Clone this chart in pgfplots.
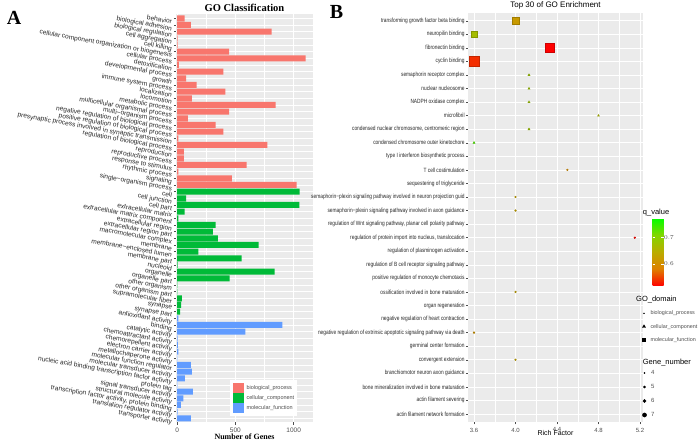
\documentclass[border=0pt]{standalone}
\usepackage{fontspec}
\setmainfont{Liberation Sans}
\newfontfamily\serifbf{Liberation Serif}
\newfontfamily\narrowfont{Liberation Sans}[FakeStretch=0.79]
\usepackage{pgfplots}
\usepackage{pgfplotstable}
\pgfplotsset{compat=1.18}

\definecolor{bpRed}{HTML}{F8766D}
\definecolor{ccGreen}{HTML}{00BA38}
\definecolor{mfBlue}{HTML}{619CFF}
\definecolor{ggBg}{HTML}{EBEBEB}
\definecolor{ggText}{HTML}{4D4D4D}

% invisible box that fixes the size of a legend key
\newcommand\keybox[4]{\pgfpathrectangle{\pgfpoint{#1}{#2}}{\pgfpoint{#3}{#4}}\pgfusepath{}}

\pgfplotsset{
  colormap={qv}{rgb255(0cm)=(255,0,0) rgb255(1cm)=(222,128,0) rgb255(2cm)=(186,172,0) rgb255(3cm)=(130,214,0) rgb255(4cm)=(0,255,0)},
  ggpanel/.style={
    scale only axis, enlargelimits=false,
    axis background/.style={fill=ggBg},
    axis line style={draw=none},
    grid=both, major grid style={white, line width=0.6pt}, minor grid style={white, line width=0.3pt},
    tick align=outside, tickpos=left, major tick length=2.2pt, minor tick length=0pt,
    tick style={ggText, line width=0.4pt},
    /pgf/number format/assume math mode=true,
    /pgf/number format/1000 sep={},
    ticklabel style={text=ggText},
  },
  hiddenleg/.style={
    hide axis, scale only axis, width=10pt, height=10pt,
    xmin=0, xmax=1, ymin=0, ymax=1, anchor=north west,
    legend cell align=left,
    legend style={at={(0,1)}, anchor=north west, draw=none, fill=none,
      inner sep=0pt, outer sep=0pt, text=ggText,
      nodes={inner sep=0pt, text height=4.5pt, text depth=1.5pt},
      /tikz/every odd column/.append style={column sep=4pt}},
    legend image code/.code={\keybox{0pt}{-3pt}{5pt}{6pt}\draw[##1] plot coordinates {(2.5pt,0pt)};},
  },
}

% panel B points: rich factor, row, q value, mark size
\pgfplotstableread{
x y q s
4.0 1 0.62 3.4
3.6 2 0.67 2.8
4.33 3 0.517 4.4
3.6 4 0.54 4.9
}\mfdata
\pgfplotstableread{
x y q s
4.13 5 0.68 1.2
4.13 6 0.68 1.2
4.13 7 0.68 1.2
4.8 8 0.66 1.1
4.13 9 0.68 1.2
3.6 10 0.735 1.2
}\ccdata
\pgfplotstableread{
x y q s
4.5 12 0.60 0.9
4.0 14 0.63 0.9
4.0 15 0.63 0.9
5.15 17 0.52 0.9
4.0 21 0.63 0.9
3.6 24 0.61 0.9
4.0 26 0.63 0.9
}\bpdata

\begin{document}
\begin{tikzpicture}[x=1pt,y=1pt]

% ---------------- panel A
\begin{axis}[ggpanel, at={(176pt,23.7pt)}, anchor=south west, width=137pt, height=408pt,
  xmin=-10, xmax=1166, ymin=0.4, ymax=61.6, y dir=reverse,
  xtick={0,500,1000}, minor xtick={250,750},
  ytick={1,...,61},
  yticklabels={behavior, biological adhesion, biological regulation, cell aggregation, cell killing,
    cellular component organization or biogenesis, cellular process, detoxification,
    developmental process, growth, immune system process, localization, locomotion,
    metabolic process, multicellular organismal process, multi−organism process,
    negative regulation of biological process, positive regulation of biological process,
    presynaptic process involved in synaptic transmission, regulation of biological process,
    reproduction, reproductive process, response to stimulus, rhythmic process, signaling,
    single−organism process,
    cell, cell junction, cell part, extracellular matrix, extracellular matrix component,
    extracellular region, extracellular region part, macromolecular complex, membrane,
    membrane−enclosed lumen, membrane part, nucleoid, organelle, organelle part,
    other organism, other organism part, supramolecular fiber, synapse, synapse part,
    antioxidant activity, binding, catalytic activity, chemoattractant activity,
    chemorepellent activity, electron carrier activity, metallochaperone activity,
    molecular function regulator, molecular transducer activity,
    nucleic acid binding transcription factor activity, protein tag,
    signal transducer activity, structural molecule activity,
    {transcription factor activity, protein binding}, translation regulator activity,
    transporter activity},
  yticklabel style={font=\fontsize{6.6}{7}\selectfont, rotate=-10, anchor=north east, inner sep=1pt, text=black!85},
  xticklabel style={font=\fontsize{6.5}{7}\selectfont},
  title={GO Classification},
  every axis title/.style={font=\serifbf\bfseries\fontsize{10.5}{12}\selectfont, at={(0.5,1)}, anchor=south, inner sep=1pt, yshift=1pt},
  xlabel={Number of Genes},
  xlabel style={font=\serifbf\bfseries\fontsize{8}{9}\selectfont, at={(0.5,0)}, anchor=center, yshift=-14.7pt},
  legend cell align=left,
  legend style={at={(0.394,0.1037)}, anchor=north west, fill=white, draw=none, inner sep=3pt,
    font=\fontsize{5.5}{6}\selectfont, text=ggText, row sep=0pt,
    nodes={inner sep=0pt},
    /tikz/every odd column/.append style={column sep=3pt}},
]
\addplot[xbar, bar width=0.9, bar shift=0pt, fill=bpRed, draw=none, forget plot] coordinates {
  (63,1) (117,2) (811,3) (3,4) (5,5) (446,6) (1103,7) (14,8) (397,9) (77,10)
  (166,11) (414,12) (126,13) (846,14) (446,15) (91,16) (331,17) (397,18) (11,19) (774,20)
  (57,21) (57,22) (597,23) (11,24) (469,25) (1026,26)};
\addplot[xbar, bar width=0.9, bar shift=0pt, fill=ccGreen, draw=none, forget plot] coordinates {
  (1051,27) (77,28) (1049,29) (63,30) (11,31) (331,32) (306,33) (349,34) (700,35) (183,36)
  (554,37) (3,38) (837,39) (451,40) (2,41) (1,42) (40,43) (34,44) (26,45)};
\addplot[xbar, bar width=0.9, bar shift=0pt, fill=mfBlue, draw=none, forget plot] coordinates {
  (11,46) (903,47) (586,48) (3,49) (6,50) (11,51) (1,52) (117,53) (126,54) (66,55)
  (1,56) (134,57) (54,58) (31,59) (3,60) (117,61)};
\addlegendimage{legend image code/.code={\keybox{0pt}{-5pt}{10pt}{10pt}\fill[bpRed] (0pt,-4.5pt) rectangle (10pt,4.5pt);}}
\addlegendentry{biological\_process}
\addlegendimage{legend image code/.code={\keybox{0pt}{-5pt}{10pt}{10pt}\fill[ccGreen] (0pt,-4.5pt) rectangle (10pt,4.5pt);}}
\addlegendentry{cellular\_component}
\addlegendimage{legend image code/.code={\keybox{0pt}{-5pt}{10pt}{10pt}\fill[mfBlue] (0pt,-4.5pt) rectangle (10pt,4.5pt);}}
\addlegendentry{molecular\_function}
\end{axis}

% ---------------- panel B
\begin{axis}[ggpanel, at={(468pt,23.9pt)}, anchor=south west, width=175pt, height=409.5pt,
  xmin=3.542, xmax=5.229, ymin=0.4, ymax=30.6, y dir=reverse,
  xtick={3.6,4.0,4.4,4.8,5.2}, minor xtick={3.8,4.2,4.6,5.0},
  xticklabel style={font=\fontsize{6}{7}\selectfont, /pgf/number format/.cd, fixed, fixed zerofill, precision=1},
  ytick={1,...,30},
  yticklabels={transforming growth factor beta binding, neuropilin binding, fibronectin binding,
    cyclin binding, semaphorin receptor complex, nuclear nucleosome, NADPH oxidase complex,
    microfibril, {condensed nuclear chromosome, centromeric region},
    condensed chromosome outer kinetochore, type I interferon biosynthetic process,
    T cell costimulation, sequestering of triglyceride,
    semaphorin−plexin signaling pathway involved in neuron projection guid,
    semaphorin−plexin signaling pathway involved in axon guidance,
    {regulation of Wnt signaling pathway, planar cell polarity pathway},
    {regulation of protein import into nucleus, translocation},
    regulation of plasminogen activation, regulation of B cell receptor signaling pathway,
    positive regulation of monocyte chemotaxis, ossification involved in bone maturation,
    organ regeneration, negative regulation of heart contraction,
    negative regulation of extrinsic apoptotic signaling pathway via death,
    germinal center formation, convergent extension, branchiomotor neuron axon guidance,
    bone mineralization involved in bone maturation, actin filament severing,
    actin filament network formation},
  yticklabel style={font=\narrowfont\fontsize{6.1}{7}\selectfont, text=black!85, inner sep=1pt},
  title={Top 30 of GO Enrichment},
  every axis title/.style={font=\fontsize{8}{9}\selectfont, at={(0.5,1)}, anchor=south, inner sep=1pt, yshift=2.4pt},
  xlabel={Rich Factor},
  xlabel style={font=\fontsize{7}{8}\selectfont, at={(0.5,0)}, anchor=center, yshift=-11pt},
  colormap name=qv, point meta min=0.517, point meta max=0.774,
  colorbar,
  colorbar style={at={(parent axis.north east)}, anchor=north west, xshift=1pt, yshift=-205.4pt,
    scale only axis, width=11pt, height=68pt,
    ytick={0.6,0.7}, yticklabel pos=right, ytick pos=both,
    yticklabel style={font=\fontsize{6}{7}\selectfont, text=ggText, inner sep=0.5pt, /pgf/number format/.cd, fixed, fixed zerofill, precision=1},
    axis line style={draw=none}, tick align=inside, major tick length=2.5pt,
    tick style={white, line width=0.5pt}, major tick style={white, line width=0.5pt}},
]
\addplot[scatter, only marks, mark=square*, point meta=explicit,
  visualization depends on={\thisrow{s} \as \msize},
  scatter/@pre marker code/.append style={/tikz/mark size=\msize}, forget plot]
  table[x=x, y=y, meta=q] {\mfdata};
\addplot[scatter, only marks, mark=triangle*, point meta=explicit,
  visualization depends on={\thisrow{s} \as \msize},
  scatter/@pre marker code/.append style={/tikz/mark size=\msize}, forget plot]
  table[x=x, y=y, meta=q] {\ccdata};
\addplot[scatter, only marks, mark=*, point meta=explicit,
  visualization depends on={\thisrow{s} \as \msize},
  scatter/@pre marker code/.append style={/tikz/mark size=\msize}, forget plot]
  table[x=x, y=y, meta=q] {\bpdata};
\end{axis}

% ---------------- panel B legends
\begin{axis}[hiddenleg, at={(641.5pt,135.7pt)},
  legend style={font=\fontsize{5.4}{6}\selectfont, row sep=7.3pt}]
\addlegendimage{only marks, mark=*, mark size=0.5pt, black}
\addlegendentry{biological\_process}
\addlegendimage{only marks, mark=triangle*, mark size=1.8pt, black}
\addlegendentry{cellular\_component}
\addlegendimage{only marks, mark=square*, mark size=1.5pt, black}
\addlegendentry{molecular\_function}
\end{axis}
\begin{axis}[hiddenleg, at={(642pt,76pt)},
  legend style={font=\fontsize{6}{7}\selectfont, row sep=8pt}]
\addlegendimage{only marks, mark=*, mark size=0.6pt, black}
\addlegendentry{4}
\addlegendimage{only marks, mark=*, mark size=1.2pt, black}
\addlegendentry{5}
\addlegendimage{only marks, mark=*, mark size=1.6pt, black}
\addlegendentry{6}
\addlegendimage{only marks, mark=*, mark size=2.1pt, black}
\addlegendentry{7}
\end{axis}

\node[font=\fontsize{7.5}{8}\selectfont, anchor=west, inner sep=0pt] at (642.7pt,233.3pt) {q\_value};
\node[font=\fontsize{7.5}{8}\selectfont, anchor=west, inner sep=0pt] at (636pt,146pt) {GO\_domain};
\node[font=\fontsize{7.5}{8}\selectfont, anchor=west, inner sep=0pt] at (642.7pt,83.7pt) {Gene\_number};

\node[font=\serifbf\bfseries\fontsize{20}{22}\selectfont, inner sep=0pt] at (14pt,428.5pt) {A};
\node[font=\serifbf\bfseries\fontsize{20}{22}\selectfont, inner sep=0pt] at (336.5pt,434.5pt) {B};

\pgfresetboundingbox
\path[use as bounding box] (0pt,0pt) rectangle (700pt,446pt);
\end{tikzpicture}
\end{document}
